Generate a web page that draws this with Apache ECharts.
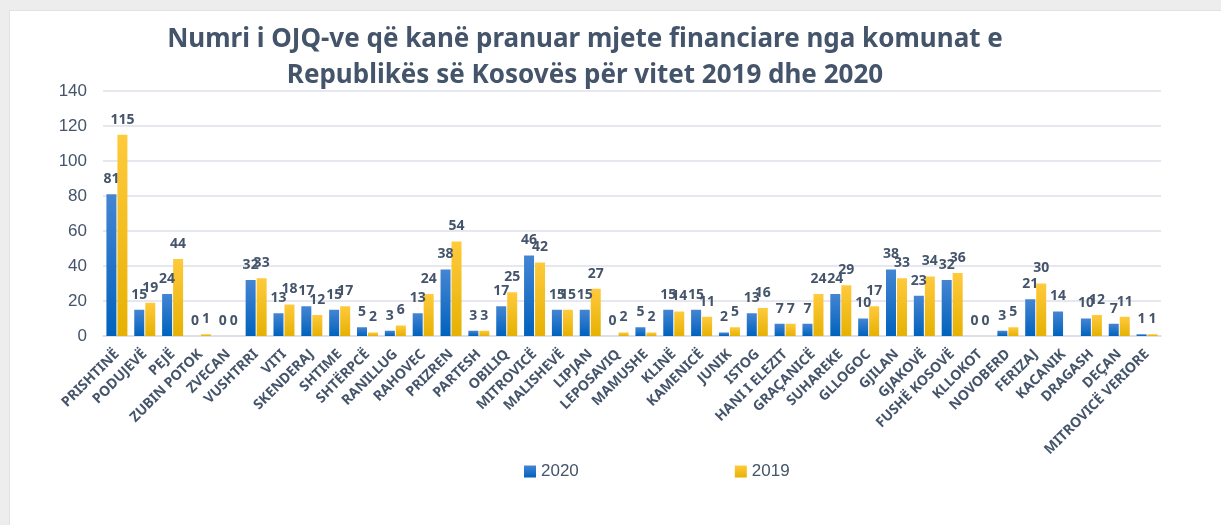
<!DOCTYPE html>
<html lang="sq">
<head>
    <meta charset="UTF-8">
    <title>Numri i OJQ-ve</title>
    <style>
        html, body { margin: 0; padding: 0; background: #ededed; }
        #main { position: absolute; left: 9px; top: 10px; width: 1212px; height: 515px;
                background: #fff; border-top: 1px solid #e2e2ea; border-left: 1px solid #e2e2ea; }
    </style>
</head>
<body>
<div id="main"></div>
<script src="https://cdn.jsdelivr.net/npm/echarts@6/dist/echarts.min.js"></script>
<script type="text/javascript">
    var komunat = ['PRISHTINË', 'PODUJEVË', 'PEJË', 'ZUBIN POTOK', 'ZVECAN', 'VUSHTRRI', 'VITI', 'SKENDERAJ',
        'SHTIME', 'SHTËRPCË', 'RANILLUG', 'RAHOVEC', 'PRIZREN', 'PARTESH', 'OBILIQ', 'MITROVICË', 'MALISHEVË',
        'LIPJAN', 'LEPOSAVIQ', 'MAMUSHE', 'KLINË', 'KAMENICË', 'JUNIK', 'ISTOG', 'HANI I ELEZIT', 'GRAÇANICË',
        'SUHAREKE', 'GLLOGOC', 'GJILAN', 'GJAKOVË', 'FUSHË KOSOVË', 'KLLOKOT', 'NOVOBERD', 'FERIZAJ',
        'KACANIK', 'DRAGASH', 'DEÇAN', 'MITROVICË VERIORE'];
    var viti2020 = [81, 15, 24, 0, 0, 32, 13, 17, 15, 5, 3, 13, 38, 3, 17, 46, 15, 15, 0, 5, 15, 15, 2, 13, 7, 7,
        24, 10, 38, 23, 32, 0, 3, 21, 14, 10, 7, 1];
    var viti2019 = [115, 19, 44, 1, 0, 33, 18, 12, 17, 2, 6, 24, 54, 3, 25, 42, 15, 27, 2, 2, 14, 11, 5, 16, 7, 24,
        29, 17, 33, 34, 36, 0, 5, 30, null, 12, 11, 1];
    var yTicks = [0, 20, 40, 60, 80, 100, 120, 140];

    var tekst = '#44546a';
    var myChart = echarts.init(document.getElementById('main'));

    function grad(top, bottom) {
        return new echarts.graphic.LinearGradient(0, 0, 0, 1, [
            {offset: 0, color: top}, {offset: 1, color: bottom}
        ]);
    }
    function etiketa() {
        return {show: true, position: 'top', distance: 8, color: tekst,
            fontFamily: 'Liberation Sans Narrow, Noto Sans', fontWeight: 'bold', fontSize: 14};
    }

    myChart.setOption({
        textStyle: {fontFamily: 'Liberation Sans Narrow, Noto Sans'},
        title: {
            text: 'Numri i OJQ-ve që kanë pranuar mjete financiare nga komunat e\nRepublikës së Kosovës për vitet 2019 dhe 2020',
            left: 570, top: 6, textAlign: 'center',
            textStyle: {color: tekst, fontSize: 26, fontWeight: 'bold', lineHeight: 36,
                fontFamily: 'Liberation Sans Narrow, Noto Sans'}
        },
        legend: {
            left: 509, top: 447, itemWidth: 12, itemHeight: 12, itemGap: 156,
            icon: 'rect',
            textStyle: {color: tekst, fontSize: 17, fontFamily: 'Liberation Sans, Noto Sans'},
            data: ['2020', '2019']
        },
        grid: {left: 93, right: 61, top: 80, bottom: 190, containLabel: false},
        xAxis: {
            type: 'category', data: komunat,
            axisTick: {show: false},
            axisLine: {lineStyle: {color: '#d9dbe4', width: 1.5}},
            axisLabel: {rotate: 45, interval: 0, margin: 16, color: tekst, fontWeight: 'bold', fontSize: 14,
                fontFamily: 'Liberation Sans Narrow, Noto Sans'}
        },
        yAxis: {
            type: 'value', min: yTicks[0], max: yTicks[yTicks.length - 1], interval: 20,
            axisLine: {show: false}, axisTick: {show: false},
            splitLine: {lineStyle: {color: '#dfe1ea', width: 1.5}},
            axisLabel: {margin: 16, color: tekst, fontSize: 17, fontFamily: 'Liberation Sans, Noto Sans'}
        },
        series: [
            {name: '2020', type: 'bar', data: viti2020, barWidth: 10, barGap: '10%',
                itemStyle: {color: grad('#4585d3', '#0062bd')}, label: etiketa()},
            {name: '2019', type: 'bar', data: viti2019, barWidth: 10,
                itemStyle: {color: grad('#ffca3c', '#e6b102')}, label: etiketa()}
        ]
    });
</script>
</body>
</html>
